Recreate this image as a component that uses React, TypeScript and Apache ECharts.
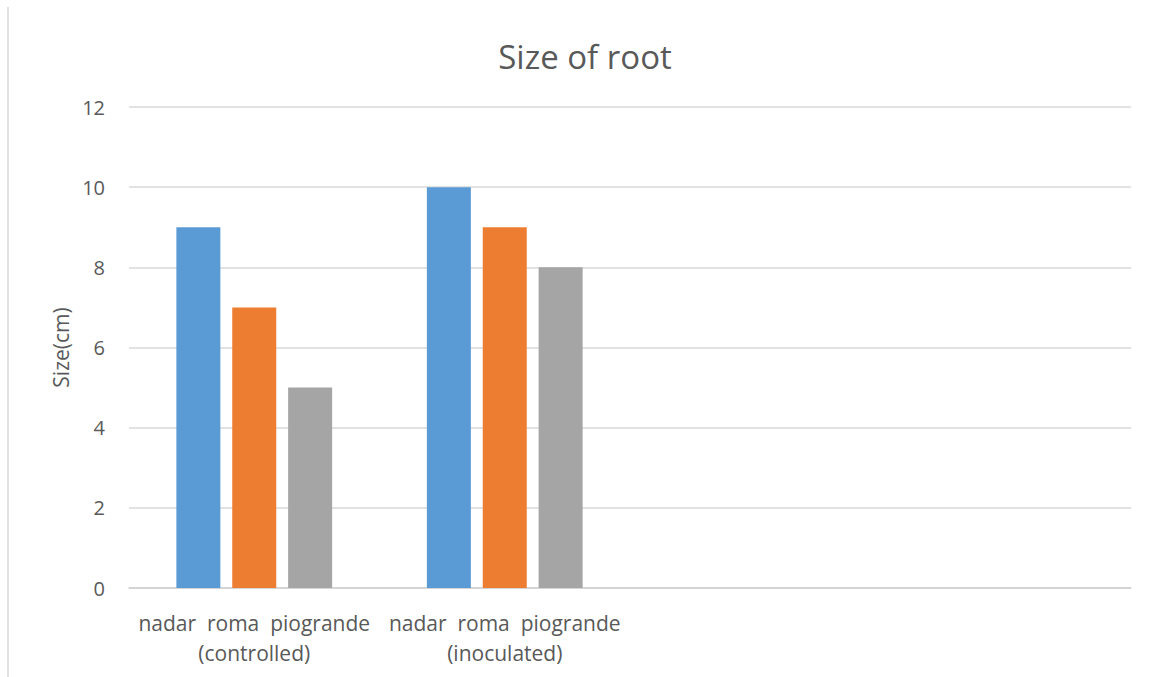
import React, { useEffect, useRef } from "react";
import * as echarts from "echarts";

// Root size per variety, in cm, for each treatment group
const categories = [
  "nadar  roma  piogrande\n(controlled)",
  "nadar  roma  piogrande\n(inoculated)",
  "",
  "",
];
const nadar = [9, 10, null, null];
const roma = [7, 9, null, null];
const piogrande = [5, 8, null, null];
const yTicks = { min: 0, max: 12, interval: 2 };

const FONT = "'Open Sans', sans-serif";
const TEXT = "#595959";

export default function App() {
  const ref = useRef<HTMLDivElement>(null);

  useEffect(() => {
    if (!ref.current) return;
    const chart = echarts.init(ref.current, undefined, { renderer: "svg" });
    const bar = (name: string, data: (number | null)[], color: string) => ({
      name,
      type: "bar",
      data,
      barWidth: 44,
      barGap: "27%",
      itemStyle: { color },
    });
    chart.setOption({
      animation: false,
      backgroundColor: "#ffffff",
      textStyle: { fontFamily: FONT },
      title: {
        text: "Size of root",
        left: 580,
        top: 35,
        textAlign: "center",
        textStyle: { fontFamily: FONT, fontSize: 33, fontWeight: "normal", color: TEXT },
      },
      grid: { left: 129, right: 22, top: 107, bottom: 89 },
      xAxis: {
        type: "category",
        data: categories,
        axisTick: { show: false },
        axisLine: { lineStyle: { color: "#d0d0d0", width: 1.5 } },
        axisLabel: {
          interval: 0,
          margin: 20,
          fontSize: 21,
          lineHeight: 30,
          color: TEXT,
          fontFamily: FONT,
        },
      },
      yAxis: {
        type: "value",
        min: yTicks.min,
        max: yTicks.max,
        interval: yTicks.interval,
        name: "Size(cm)",
        nameLocation: "middle",
        nameGap: 52,
        nameTextStyle: { fontSize: 21, color: TEXT, fontFamily: FONT },
        axisLine: { show: false },
        axisTick: { show: false },
        axisLabel: { fontSize: 20, color: TEXT, margin: 24, fontFamily: FONT },
        splitLine: { lineStyle: { color: "#d9d9d9", width: 1.5 } },
      },
      series: [
        bar("nadar", nadar, "#5B9BD5"),
        bar("roma", roma, "#ED7D31"),
        bar("piogrande", piogrande, "#A5A5A5"),
      ],
      graphic: [
        {
          type: "line",
          shape: { x1: 8, y1: 7, x2: 8, y2: 677 },
          style: { stroke: "#d9d9d9", lineWidth: 1.5 },
        },
      ],
    });
    return () => chart.dispose();
  }, []);

  return (
    <div
      ref={ref}
      style={{ position: "absolute", left: 0, top: 0, width: 1153, height: 677 }}
    />
  );
}
